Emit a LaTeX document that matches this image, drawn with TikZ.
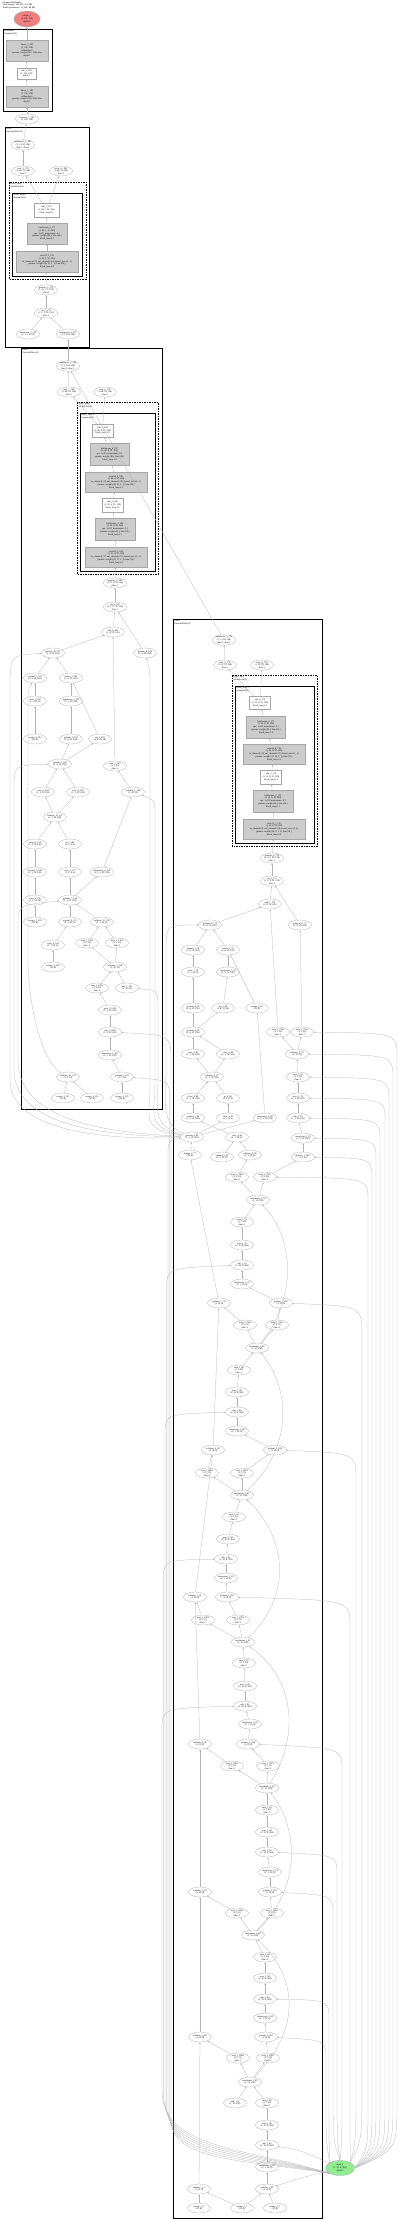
\documentclass[tikz,border=0pt]{standalone}
\usepackage{fontspec}
\setmainfont{Liberation Serif}
\usetikzlibrary{shapes.geometric,arrows.meta}
\definecolor{lcoral}{HTML}{F08080}
\definecolor{lgreen}{HTML}{90EE90}
\newcommand\EE[4]{\node[el] (#1) at (#2,#3) {#4};}
\begin{document}
\begin{tikzpicture}[x=1pt,y=-1pt,
  base/.style={font=\fontsize{2.3}{2.75}\selectfont, align=center},
  el/.style={base, ellipse, draw=gray!70, line width=0.25pt, minimum width=23pt, minimum height=10pt, inner sep=0pt},
  gbox/.style={base, rectangle, draw=gray!70, fill=gray!40, line width=0.4pt, inner sep=0.8pt},
  wbox/.style={base, rectangle, draw=gray!70, fill=white, line width=0.4pt, inner sep=0.8pt},
  clus/.style={draw=black, line width=0.9pt},
  dclus/.style={draw=black, line width=0.45pt, dash pattern=on 1.5pt off 1pt},
  iclus/.style={draw=black, line width=0.6pt},
  clab/.style={font=\fontsize{2.3}{2.75}\selectfont, align=left, anchor=north west, inner sep=0.4pt},
  ed/.style={draw=gray!60, line width=0.25pt, -{Stealth[length=1.8pt,width=1.4pt]}},
  outn/.style={base, ellipse, fill=lcoral, draw=gray!70, line width=0.3pt, minimum width=26pt, minimum height=16pt, inner sep=0pt},
  inn/.style={base, ellipse, fill=lgreen, draw=gray!70, line width=0.3pt, minimum width=29pt, minimum height=15pt, inner sep=0pt},
]
\useasboundingbox (0,0) rectangle (400,2222);
\fill[white] (0,0) rectangle (400,2222);
\node[clab] (hdr) at (2,1) {ComputeNetHandler\\Total params: 145,520 / 0.6 MB\\Tensor parameters: 12,160 / 48 KB};
\node[outn] (out) at (27,19) {output\_1\\(1, 192, 128)\\depth:0};
% ---------------- cluster 1
\draw[clus] (3,29) rectangle (52,111);
\node[clab] (l1) at (4,29.5) {ts.Handler\\Sequential(3)};
\node[gbox, minimum width=42pt, minimum height=21pt] (a1) at (27,50.5) {linear\_2\_181\\(1, 192, 128)\\ts.Handler.2\\params: weight (192, 128), bias\\depth:1};
\node[wbox, minimum width=19pt, minimum height=11pt] (a2) at (26.5,73.5) {relu\_1\_180\\(1, 192, 128)\\depth:1};
\node[gbox, minimum width=42pt, minimum height=21pt] (a3) at (27,96.5) {linear\_1\_180\\(1, 192, 128)\\ts.Handler.0\\params: weight (128, 384), bias\\depth:1};
\EE{a4}{27}{119}{squeeze\_1\_180\\(1, 192, 128)}
\draw[ed] (a4) -- (a3); \draw[ed] (a3) -- (a2); \draw[ed] (a2) -- (a1); \draw[ed] (a1) -- (out);
% ---------------- cluster 2
\draw[clus] (5,127) rectangle (89,347);
\node[clab] (l2) at (6,127.5) {block\\EncoderBlock(3)};
\EE{b1}{23}{145}{unsqueeze\_1\_187\\(1, 1, 192, 128)\\dim=1, dim=1}
\EE{b2}{23}{171}{max\_3\_179\\(1, 64, 32, 128)\\dim=1}
\EE{b3}{61}{171}{max\_10\_180\\(1, 64, 32, 128)\\dim=1}
\draw[dclus] (9,182) rectangle (86,279);
\node[clab] (l2b) at (10,182.5) {block\_loop\\ModuleList(1)};
\draw[iclus] (12,193) rectangle (82,276);
\node[clab] (l2c) at (13,193.5) {block\_loop.0\\Sequential(3)};
\node[wbox, minimum width=25pt, minimum height=14pt] (b4) at (46.5,210) {relu\_2\_179\\(1, 64, 1, 32, 192)\\block\_loop.0.1};
\node[gbox, minimum width=40pt, minimum height=21pt] (b5) at (47,233.5) {batchnorm\_2\_177\\(1, 64, 1, 32, 192)\\eps: 1e-05, momentum: 0.1\\params: weight (64,), bias (64,)\\block\_loop.0.1};
\node[gbox, minimum width=62pt, minimum height=21pt] (b6) at (47,261.5) {conv2d\_3\_178\\(1, 64, 1, 32, 192)\\in\_channels=32, out\_channels=64, kernel\_size=(1, 1)\\params: weight (64, 32, 1, 1), bias (64,)\\block\_loop.0.0};
\EE{b7}{46}{290}{permute\_2\_173\\(1, 32, 1, 1, 192)\\dim=0}
\EE{b8}{46}{313}{cat\_2\_176\\(1, 1, 1, 32, 192)\\dim=1}
\EE{b9}{28}{334}{unsqueeze\_3\_178\\(1, 1, 1, 32, 8)}
\EE{b10}{68}{334}{unsqueeze\_4\_172\\(1, 1, 192, 128)}
\draw[ed] (b9) -- (b8); \draw[ed] (b10) -- (b8); \draw[ed] (b8) -- (b7); \draw[ed] (b7) -- (b6);
\draw[ed] (b6) -- (b5); \draw[ed] (b5) -- (b4); \draw[ed] (b4) -- (b2); \draw[ed] (b4) -- (b3);
\draw[ed] (b2) -- (b1); \draw[ed] (b1) -- (a4);
% ---------------- cluster 3
\draw[clus] (21,348) rectangle (162,1109);
\node[clab] (l3) at (22,348.5) {block\\EncoderBlock(3)};
\EE{c1}{68}{366}{unsqueeze\_2\_179\\(1, 1, 192, 128)\\dim=1, dim=1}
\EE{c2}{69}{392}{max\_7\_188\\(1, 48, 32, 128)\\dim=1}
\EE{c3}{105}{392}{max\_6\_178\\(1, 48, 32, 128)\\dim=1}
\draw[dclus] (77,402) rectangle (158,574);
\node[clab] (l3b) at (78,402.5) {block\_loop\\ModuleList(2)};
\draw[iclus] (80,413) rectangle (155,571);
\node[clab] (l3c) at (81,413.5) {block\_loop.1\\Sequential(6)};
\node[wbox, minimum width=21pt, minimum height=13pt] (c4) at (102.5,430.5) {relu\_5\_189\\(1, 48, 4, 32, 128)\\block\_loop.1.5};
\node[gbox, minimum width=39pt, minimum height=22pt] (c5) at (109.5,454) {batchnorm\_4\_187\\(1, 48, 4, 32, 128)\\eps: 1e-05, momentum: 0.1\\params: weight (48,), bias (48,)\\block\_loop.1.4};
\node[gbox, minimum width=62pt, minimum height=20pt] (c6) at (116,482) {conv2d\_6\_188\\(1, 48, 4, 32, 128)\\in\_channels=32, out\_channels=48, kernel\_size=(1, 1)\\params: weight (48, 32, 1, 1), bias (48,)\\block\_loop.1.3};
\node[wbox, minimum width=21pt, minimum height=14pt] (c7) at (112.5,505) {relu\_3\_185\\(1, 32, 4, 32, 128)\\block\_loop.1.2};
\node[gbox, minimum width=40pt, minimum height=22pt] (c8) at (115,529) {batchnorm\_3\_183\\(1, 32, 4, 32, 128)\\eps: 1e-05, momentum: 0.1\\params: weight (32,), bias (32,)\\block\_loop.1.1};
\node[gbox, minimum width=62pt, minimum height=20pt] (c9) at (116,557) {conv2d\_5\_184\\(1, 32, 4, 32, 128)\\in\_channels=17, out\_channels=32, kernel\_size=(1, 1)\\params: weight (32, 17, 1, 1), bias (32,)\\block\_loop.1.0};
\EE{c10}{115}{583}{permute\_4\_182\\(1, 17, 4, 32, 128)\\dim=-1}
\EE{c11}{115}{607}{cat\_3\_183\\(1, 1, 17, 32, 128)\\dim=1}
\EE{c12}{113}{632}{add\_4\_190\\(1, 4, 32, 128)}
\EE{c13}{53}{653}{getitem\_19\_151\\(1, 4, 32, 128)}
\EE{c14}{145}{653}{getitem\_8\_184\\(1, 4, 32, 128)}
\EE{c15}{35}{678}{expand\_1\_178\\(1, 4, 32, 128)}
\EE{c16}{71}{678}{where\_3\_182\\(1, 4, 32, 128)}
\EE{c17}{35}{701}{view\_5\_182\\(1, 1, 32, 8)}
\EE{c18}{71}{701}{unsqueeze\_3\_183\\(1, 1, 32, 128)}
\EE{c19}{35}{739}{arange\_4\_193\\(32, 8)}
\EE{c20}{71}{739}{getitem\_5\_183\\(1, 4, 32, 128)}
\EE{c21}{100}{739}{sig\_5\_181\\(1, 4, 32, 28)}
\EE{c22}{60}{764}{getitem\_3\_186\\(1, 4, 32, 128)}
\EE{c23}{115}{766}{max\_1\_128\\(1, 1, 32)\\dim=-1}
\EE{c24}{43}{792}{view\_3\_184\\(1, 1, 32, 128)}
\EE{c25}{78}{792}{view\_4\_182\\(1, 1, 32, 128)}
\EE{c26}{133}{792}{softmax\_1\_128\\(1, 32, 32)}
\EE{c27}{55}{817}{softmax\_12\_147\\(1, 1, 32, 128)}
\EE{c28}{35}{844}{clone\_2\_138\\(1, 1, 32, 128)}
\EE{c29}{70}{844}{pt\_3\_182\\(1, 1, 4, 8)}
\EE{c30}{35}{872}{expand\_2\_148\\(1, 1, 32, 128)}
\EE{c31}{70}{872}{view\_2\_137\\(1, 1, 4, 4)}
\EE{c32}{102}{872}{unsqueeze\_4\_132\\(1, 1, 1, 32, 128)}
\EE{c33}{35}{900}{view\_3\_136\\(1, 1, 32, 64)}
\EE{c34}{70}{900}{getitem\_7\_138\\(1, 1, 32, 128)}
\EE{c35}{35}{922}{arange\_7\_138\\(32, 8)}
\EE{c36}{70}{922}{expand\_2\_132\\(1, 1, 32, 8)}
\EE{c37}{102}{922}{softmax\_15\_138\\(1, 1, 32, 8)}
\EE{c38}{53}{945}{view\_4\_128\\(1, 1, 32, 8)}
\EE{c39}{87}{943}{max\_1\_1281\\(1, 1, 32)\\dim=-1}
\EE{c40}{117}{943}{max\_1\_1282\\(1, 1, 32)\\dim=-1}
\EE{c41}{53}{967}{arange\_3\_128\\(32, 8)}
\EE{c42}{115}{967}{softmax\_2\_128\\(1, 32, 32)}
\EE{c43}{97}{988}{sum\_1\_1283\\(1, 1, 32)\\dim=-1}
\EE{c44}{127}{988}{mul\_1\_162\\(1, 32, 32)}
\EE{c45}{110}{1010}{pow\_1\_1283\\(1, 1, 32, 128)}
\EE{c46}{110}{1032}{sub\_1\_1283\\(1, 1, 32, 128)}
\EE{c47}{110}{1055}{unsqueeze\_5\_127\\(1, 1, 32, 128)}
\EE{c48}{68}{1077}{softmax\_10\_135\\(1, 1, 32)}
\EE{c49}{122}{1077}{getitem\_1\_203\\(1, 1, 32)}
\EE{c50}{63}{1098}{arange\_3\_135\\(32, 8)}
\EE{c51}{92}{1098}{arange\_4\_135\\(32, 8)}
\EE{c52}{122}{1098}{arange\_5\_135\\(32, 8)}
\draw[ed] (c1) -- (b10);
\draw[ed] (c2) -- (c1); \draw[ed] (c4) -- (c2); \draw[ed] (c4) -- (c3);
\draw[ed] (c5) -- (c4); \draw[ed] (c6) -- (c5); \draw[ed] (c7) -- (c6); \draw[ed] (c8) -- (c7); \draw[ed] (c9) -- (c8);
\draw[ed] (c10) -- (c9); \draw[ed] (c11) -- (c10); \draw[ed] (c12) -- (c11); \draw[ed] (c13) -- (c12); \draw[ed] (c14) -- (c11);
\draw[ed] (c23) -- (c12); \draw[ed] (c15) -- (c13); \draw[ed] (c16) -- (c13); \draw[ed] (c17) -- (c15); \draw[ed] (c19) -- (c17);
\draw[ed] (c18) -- (c16); \draw[ed] (c20) -- (c18); \draw[ed] (c21) -- (c16); \draw[ed] (c22) -- (c20); \draw[ed] (c22) -- (c21);
\draw[ed] (c24) -- (c22); \draw[ed] (c25) -- (c22); \draw[ed] (c27) -- (c24); \draw[ed] (c27) -- (c25);
\draw[ed] (c26) -- (c23); \draw[ed] (c28) -- (c27); \draw[ed] (c29) -- (c27); \draw[ed] (c30) -- (c28); \draw[ed] (c31) -- (c29);
\draw[ed] (c33) -- (c30); \draw[ed] (c34) -- (c31); \draw[ed] (c34) -- (c32); \draw[ed] (c32) -- (c26);
\draw[ed] (c35) -- (c33); \draw[ed] (c36) -- (c34); \draw[ed] (c37) -- (c34); \draw[ed] (c38) -- (c36); \draw[ed] (c41) -- (c38);
\draw[ed] (c39) -- (c37); \draw[ed] (c40) -- (c37); \draw[ed] (c42) -- (c39); \draw[ed] (c42) -- (c40);
\draw[ed] (c43) -- (c42); \draw[ed] (c44) -- (c42); \draw[ed] (c45) -- (c43); \draw[ed] (c46) -- (c45); \draw[ed] (c47) -- (c46);
\draw[ed] (c49) -- (c47); \draw[ed] (c50) -- (c48); \draw[ed] (c51) -- (c48); \draw[ed] (c52) -- (c49);
\draw[ed] (c48) .. controls (40,1060) and (28,1000) .. (28,960) -- (28,700) .. controls (28,690) .. (c15);
% ---------------- cluster 4
\draw[clus] (173,619) rectangle (322,2218);
\node[clab] (l4) at (174,619.5) {block\\EncoderBlock(3)};
\EE{d1}{224}{640}{unsqueeze\_3\_179\\(1, 1, 192, 128)\\dim=1, dim=1}
\EE{d2}{225}{665}{max\_9\_178\\(1, 32, 32, 128)\\dim=1}
\EE{d3}{262}{665}{max\_8\_178\\(1, 32, 32, 128)\\dim=1}
\draw[dclus] (232,675) rectangle (317,846);
\node[clab] (l4b) at (233,675.5) {block\_loop\\ModuleList(2)};
\draw[iclus] (235,686) rectangle (314,843);
\node[clab] (l4c) at (236,686.5) {block\_loop.1\\Sequential(6)};
\node[wbox, minimum width=21pt, minimum height=13pt] (d4) at (260,703) {relu\_8\_179\\(1, 32, 8, 32, 128)\\block\_loop.1.5};
\node[gbox, minimum width=39pt, minimum height=22pt] (d5) at (266,727) {batchnorm\_6\_177\\(1, 32, 8, 32, 128)\\eps: 1e-05, momentum: 0.1\\params: weight (32,), bias (32,)\\block\_loop.1.4};
\node[gbox, minimum width=62pt, minimum height=20pt] (d6) at (274,754) {conv2d\_8\_178\\(1, 32, 8, 32, 128)\\in\_channels=16, out\_channels=32, kernel\_size=(1, 1)\\params: weight (32, 16, 1, 1), bias (32,)\\block\_loop.1.3};
\node[wbox, minimum width=21pt, minimum height=14pt] (d7) at (271,777) {relu\_7\_176\\(1, 16, 8, 32, 128)\\block\_loop.1.2};
\node[gbox, minimum width=40pt, minimum height=22pt] (d8) at (273,801) {batchnorm\_5\_175\\(1, 16, 8, 32, 128)\\eps: 1e-05, momentum: 0.1\\params: weight (16,), bias (16,)\\block\_loop.1.1};
\node[gbox, minimum width=62pt, minimum height=20pt] (d9) at (274,829) {conv2d\_7\_176\\(1, 16, 8, 32, 128)\\in\_channels=9, out\_channels=16, kernel\_size=(1, 1)\\params: weight (16, 9, 1, 1), bias (16,)\\block\_loop.1.0};
\EE{d10}{272}{858}{permute\_6\_170\\(1, 9, 8, 32, 128)\\dim=-1}
\EE{d11}{272}{881}{cat\_5\_171\\(1, 1, 9, 32, 128)\\dim=1}
\EE{d12}{270}{904}{add\_7\_178\\(1, 8, 32, 128)}
\EE{d13}{210}{925}{getitem\_12\_78\\(1, 8, 32, 128)}
\EE{d14}{300}{925}{getitem\_11\_72\\(1, 8, 32, 128)}
\EE{d15}{193}{950}{expand\_3\_78\\(1, 8, 32, 128)}
\EE{d16}{228}{950}{where\_5\_78\\(1, 8, 32, 128)}
\EE{d17}{193}{972}{view\_7\_78\\(1, 1, 32, 8)}
\EE{d18}{228}{972}{unsqueeze\_7\_78\\(1, 1, 32, 128)}
\EE{e1}{193}{1008}{getitem\_4\_70\\(1, 8, 32, 128)}
\EE{e2}{223}{1008}{sig\_1\_80\\(1, 8, 32, 28)}
\EE{e3}{257}{1008}{arange\_6\_81\\(32, 8)}
\EE{e4}{193}{1032}{getitem\_4\_79\\(1, 8, 32, 128)}
\EE{e5}{278}{1032}{max\_1\_7810\\(1, 1, 32)\\dim=-1}
\EE{e6}{302}{1032}{max\_1\_7811\\(1, 1, 32)\\dim=-1}
\EE{e7}{193}{1054}{view\_5\_86\\(1, 1, 32, 128)}
\EE{e8}{228}{1054}{view\_6\_86\\(1, 1, 32, 128)}
\EE{e9}{297}{1054}{softmax\_1\_78\\(1, 32, 32)}
\EE{e10}{212}{1077}{softmax\_4\_87\\(1, 1, 32, 128)}
\EE{e11}{298}{1077}{sum\_1\_78\\(1, 1, 32)\\dim=-1}
\EE{e12}{193}{1098}{clone\_4\_88\\(1, 1, 32, 128)}
\EE{e13}{228}{1098}{pt\_4\_88\\(1, 1, 8, 8)}
\EE{e14}{298}{1098}{pow\_1\_78\\(1, 1, 32, 128)}
\EE{e15}{193}{1118}{expand\_1\_88\\(1, 1, 32, 128)}
\EE{e16}{228}{1118}{view\_4\_81\\(1, 1, 8, 4)}
\EE{e17}{265}{1118}{unsqueeze\_5\_89\\(1, 1, 1, 32, 128)}
\EE{e18}{298}{1118}{sub\_1\_78\\(1, 1, 32, 128)}
\EE{e19}{192}{1137}{getitem\_4\_89\\(1, 1, 32, 128)}
\EE{e20}{237}{1137}{view\_4\_90\\(1, 1, 32, 8)}
\EE{e21}{303}{1138}{unsqueeze\_1\_78\\(1, 1, 32, 128)}
\EE{e22}{190}{1155}{arange\_2\_77\\(32, 8)}
\EE{e23}{222}{1157}{expand\_2\_90\\(1, 1, 32, 8)}
\EE{e24}{250}{1155}{softmax\_8\_90\\(1, 1, 32, 8)}
\EE{e25}{303}{1157}{getitem\_1\_1017\\(1, 1, 32)}
\draw[ed] (d1) -- (c1);
\draw[ed] (d2) -- (d1); \draw[ed] (d4) -- (d2); \draw[ed] (d4) -- (d3);
\draw[ed] (d5) -- (d4); \draw[ed] (d6) -- (d5); \draw[ed] (d7) -- (d6); \draw[ed] (d8) -- (d7); \draw[ed] (d9) -- (d8);
\draw[ed] (d10) -- (d9); \draw[ed] (d11) -- (d10); \draw[ed] (d12) -- (d11); \draw[ed] (d13) -- (d12); \draw[ed] (d14) -- (d11);
\draw[ed] (d15) -- (d13); \draw[ed] (d16) -- (d13); \draw[ed] (d17) -- (d15); \draw[ed] (d18) -- (d16);
\draw[ed] (e1) -- (d17); \draw[ed] (e2) -- (d18); \draw[ed] (e3) -- (d16); \draw[ed] (e4) -- (e1); \draw[ed] (e4) -- (e2);
\draw[ed] (e5) -- (d12); \draw[ed] (e6) -- (d14);
\draw[ed] (e7) -- (e4); \draw[ed] (e8) -- (e4); \draw[ed] (e9) -- (e5); \draw[ed] (e9) -- (e6);
\draw[ed] (e10) -- (e7); \draw[ed] (e10) -- (e8); \draw[ed] (e11) -- (e9); \draw[ed] (e12) -- (e10); \draw[ed] (e13) -- (e10);
\draw[ed] (e14) -- (e11); \draw[ed] (e15) -- (e12); \draw[ed] (e16) -- (e13); \draw[ed] (e17) -- (e3); \draw[ed] (e18) -- (e14);
\draw[ed] (e19) -- (e16); \draw[ed] (e19) -- (e17); \draw[ed] (e20) -- (e15); \draw[ed] (e21) -- (e18);
\draw[ed] (e22) -- (e19); \draw[ed] (e23) -- (e20); \draw[ed] (e24) -- (e20); \draw[ed] (e25) -- (e21);
% repeated blocks
\EE{k4}{237}{1177}{max\_1\_7820\\(1, 1, 32)\\dim=-1}
\EE{k5}{265}{1177}{max\_1\_7821\\(1, 1, 32)\\dim=-1}
\EE{k6}{258}{1200}{maximum\_1\_78\\(1, 32, 128)}
\EE{k7}{242}{1222}{sum\_1\_79\\(1, 1, 32)\\dim=-1}
\EE{k8}{242}{1245}{pow\_1\_79\\(1, 32, 8, 384)}
\EE{k9}{242}{1265}{sub\_1\_79\\(1, 32, 8, 384)}
\EE{k10}{242}{1284}{unsqueeze\_1\_79\\(1, 1, 32, 8)}
\EE{k11}{219}{1303}{softmax\_7\_79\\(1, 32, 8)}
\EE{k12}{281}{1303}{getitem\_1\_867\\(1, 32, 8)}
\EE{k13}{245}{1325}{max\_1\_7950\\(1, 1, 8)\\dim=-1}
\EE{k14}{277}{1325}{max\_1\_7951\\(1, 1, 8)\\dim=-1}
\EE{k15}{257}{1348}{maximum\_1\_80\\(1, 32, 128)}
\EE{k16}{239}{1370}{sum\_1\_80\\(1, 1, 32)\\dim=-1}
\EE{k17}{237}{1392}{pow\_1\_80\\(1, 32, 8, 384)}
\EE{k18}{237}{1412}{sub\_1\_80\\(1, 32, 8, 384)}
\EE{k19}{237}{1431}{unsqueeze\_1\_80\\(1, 1, 32, 8)}
\EE{k20}{213}{1450}{softmax\_6\_80\\(1, 32, 8)}
\EE{k21}{275}{1450}{getitem\_1\_818\\(1, 32, 8)}
\EE{k22}{207}{1473}{max\_1\_8050\\(1, 1, 8)\\dim=-1}
\EE{k23}{242}{1473}{max\_1\_8051\\(1, 1, 8)\\dim=-1}
\EE{k24}{242}{1495}{maximum\_1\_81\\(1, 32, 128)}
\EE{k25}{234}{1517}{sum\_1\_81\\(1, 1, 32)\\dim=-1}
\EE{k26}{228}{1539}{pow\_1\_81\\(1, 32, 8, 384)}
\EE{k27}{226}{1559}{sub\_1\_81\\(1, 32, 8, 384)}
\EE{k28}{226}{1578}{unsqueeze\_1\_81\\(1, 1, 32, 8)}
\EE{k29}{195}{1597}{softmax\_5\_81\\(1, 32, 8)}
\EE{k30}{227}{1597}{getitem\_1\_822\\(1, 32, 8)}
\EE{k31}{203}{1620}{max\_1\_8150\\(1, 1, 8)\\dim=-1}
\EE{k32}{238}{1620}{max\_1\_8151\\(1, 1, 8)\\dim=-1}
\EE{k33}{243}{1642}{maximum\_1\_82\\(1, 32, 128)}
\EE{k34}{244}{1663}{sum\_1\_82\\(1, 1, 32)\\dim=-1}
\EE{k35}{245}{1686}{pow\_1\_82\\(1, 32, 8, 384)}
\EE{k36}{245}{1706}{sub\_1\_82\\(1, 32, 8, 384)}
\EE{k37}{250}{1724}{unsqueeze\_1\_82\\(1, 1, 32, 8)}
\EE{k38}{200}{1744}{softmax\_4\_82\\(1, 32, 8)}
\EE{k39}{248}{1744}{getitem\_1\_826\\(1, 32, 8)}
\EE{k40}{232}{1766}{max\_1\_8250\\(1, 1, 8)\\dim=-1}
\EE{k41}{268}{1766}{max\_1\_8251\\(1, 1, 8)\\dim=-1}
\EE{k42}{267}{1788}{maximum\_1\_83\\(1, 32, 128)}
\EE{k43}{267}{1810}{sum\_1\_83\\(1, 1, 32)\\dim=-1}
\EE{k44}{267}{1832}{pow\_1\_83\\(1, 32, 8, 384)}
\EE{k45}{267}{1852}{sub\_1\_83\\(1, 32, 8, 384)}
\EE{k46}{270}{1872}{unsqueeze\_1\_83\\(1, 1, 32, 8)}
\EE{k47}{200}{1892}{softmax\_3\_83\\(1, 32, 8)}
\EE{k48}{270}{1892}{getitem\_1\_831\\(1, 32, 8)}
\EE{k49}{237}{1913}{max\_1\_8350\\(1, 1, 8)\\dim=-1}
\EE{k50}{272}{1913}{max\_1\_8351\\(1, 1, 8)\\dim=-1}
\EE{k51}{253}{1935}{maximum\_1\_84\\(1, 32, 128)}
\EE{k52}{265}{1957}{sum\_1\_84\\(1, 1, 32)\\dim=-1}
\EE{k53}{265}{1978}{pow\_1\_84\\(1, 32, 8, 384)}
\EE{k54}{265}{1999}{sub\_1\_84\\(1, 32, 8, 384)}
\EE{k55}{265}{2018}{unsqueeze\_1\_84\\(1, 1, 32, 8)}
\EE{k56}{200}{2037}{softmax\_2\_84\\(1, 32, 8)}
\EE{k57}{266}{2037}{getitem\_1\_837\\(1, 32, 8)}
\EE{k58}{238}{2058}{max\_1\_8450\\(1, 1, 8)\\dim=-1}
\EE{k59}{268}{2058}{max\_1\_8451\\(1, 1, 8)\\dim=-1}
\EE{k60}{250}{2082}{maximum\_1\_85\\(1, 32, 128)}
\EE{k61}{235}{2103}{half\_1\_4\\(1, 32, 128)}
\EE{k62}{267}{2103}{sum\_1\_85\\(1, 1, 32)\\dim=-1}
\EE{k63}{267}{2125}{pow\_1\_85\\(1, 32, 8, 384)}
\EE{k64}{267}{2145}{sub\_1\_85\\(1, 32, 8, 384)}
\EE{k65}{267}{2167}{unsqueeze\_1\_85\\(1, 1, 32, 8)}
\EE{k66}{199}{2189}{softmax\_1\_2\\(1, 32, 8)}
\EE{k67}{267}{2189}{getitem\_1\_85\\(1, 32, 8)}
\EE{k68}{199}{2208}{arange\_1\_1\\(32, 8)}
\EE{k69}{242}{2208}{arange\_2\_1\\(32, 8)}
\EE{k70}{275}{2208}{arange\_3\_1\\(32, 8)}
\node[inn] (inp) at (340,2168) {input\_1\\(1, 32, 8, 384)\\depth:0};
% chain edges
\draw[ed] (k4) -- (e24); \draw[ed] (k5) -- (e25); \draw[ed] (k6) -- (k4); \draw[ed] (k6) -- (k5);
\draw[ed] (k7) -- (k6); \draw[ed] (k8) -- (k7); \draw[ed] (k9) -- (k8); \draw[ed] (k10) -- (k9); \draw[ed] (k12) -- (k10);
\draw[ed] (k13) -- (k11); \draw[ed] (k14) -- (k12); \draw[ed] (k15) -- (k13); \draw[ed] (k15) -- (k14);
\draw[ed] (k16) -- (k15); \draw[ed] (k17) -- (k16); \draw[ed] (k18) -- (k17); \draw[ed] (k19) -- (k18); \draw[ed] (k21) -- (k19);
\draw[ed] (k22) -- (k20); \draw[ed] (k23) -- (k21); \draw[ed] (k24) -- (k22); \draw[ed] (k24) -- (k23);
\draw[ed] (k25) -- (k24); \draw[ed] (k26) -- (k25); \draw[ed] (k27) -- (k26); \draw[ed] (k28) -- (k27); \draw[ed] (k30) -- (k28);
\draw[ed] (k31) -- (k29); \draw[ed] (k32) -- (k30); \draw[ed] (k33) -- (k31); \draw[ed] (k33) -- (k32);
\draw[ed] (k34) -- (k33); \draw[ed] (k35) -- (k34); \draw[ed] (k36) -- (k35); \draw[ed] (k37) -- (k36); \draw[ed] (k39) -- (k37);
\draw[ed] (k40) -- (k38); \draw[ed] (k41) -- (k39); \draw[ed] (k42) -- (k40); \draw[ed] (k42) -- (k41);
\draw[ed] (k43) -- (k42); \draw[ed] (k44) -- (k43); \draw[ed] (k45) -- (k44); \draw[ed] (k46) -- (k45); \draw[ed] (k48) -- (k46);
\draw[ed] (k49) -- (k47); \draw[ed] (k50) -- (k48); \draw[ed] (k51) -- (k49); \draw[ed] (k51) -- (k50);
\draw[ed] (k52) -- (k51); \draw[ed] (k53) -- (k52); \draw[ed] (k54) -- (k53); \draw[ed] (k55) -- (k54); \draw[ed] (k57) -- (k55);
\draw[ed] (k58) -- (k56); \draw[ed] (k59) -- (k57); \draw[ed] (k60) -- (k58); \draw[ed] (k60) -- (k59);
\draw[ed] (k62) -- (k60); \draw[ed] (k61) -- (k60); \draw[ed] (k63) -- (k62); \draw[ed] (k64) -- (k63); \draw[ed] (k65) -- (k64); \draw[ed] (k67) -- (k65);
\draw[ed] (k68) -- (k66); \draw[ed] (k69) -- (k67); \draw[ed] (k70) -- (k67); \draw[ed] (k69) -- (k66);
% left verticals
\draw[ed] (k11) -- (e22); \draw[ed] (k20) -- (k11); \draw[ed] (k29) -- (k20); \draw[ed] (k38) -- (k29);
\draw[ed] (k47) -- (k38); \draw[ed] (k56) -- (k47); \draw[ed] (k66) -- (k56);
% maximum chain through right
\draw[ed] (k15) .. controls (296,1300) and (296,1240) .. (k6);
\draw[ed] (k24) .. controls (292,1450) and (292,1390) .. (k15);
\draw[ed] (k33) .. controls (290,1600) and (290,1540) .. (k24);
\draw[ed] (k42) .. controls (298,1740) and (298,1680) .. (k33);
\draw[ed] (k51) .. controls (300,1890) and (300,1830) .. (k42);
\draw[ed] (k60) .. controls (300,2030) and (300,1980) .. (k51);
% getitem e19 to cluster 3 via far left
\draw[ed] (e19) .. controls (120,1140) and (10,1135) .. (10,1080) -- (10,690) .. controls (10,655) .. (c13);
\draw[ed] (e19) .. controls (120,1136) and (14,1130) .. (14,1070) -- (14,790) .. controls (14,765) .. (c22);
\draw[ed] (e19) .. controls (120,1133) and (18,1125) .. (18,1060) -- (18,925) .. controls (18,905) .. (c34);
\draw[ed] (e19) .. controls (140,1130) and (150,1115) .. (150,1090) -- (150,690) .. controls (150,670) .. (c14);
\draw[ed] (e19) .. controls (145,1128) and (155,1110) .. (155,1085) -- (155,815) .. controls (155,800) .. (c26);
\draw[ed] (e19) .. controls (150,1126) and (158,1105) .. (158,1080) -- (158,1010) .. controls (158,990) .. (c44);
\draw[ed] (e19) .. controls (160,1124) and (166,1100) .. (166,1070) -- (166,950) .. controls (166,925) .. (d13);
% input edges: right lanes to getitems
\draw[ed] (inp) .. controls (300,2178) .. (k67);
\draw[ed] (inp) .. controls (300,2150) .. (k64);
\draw[ed] (inp.north west) .. controls (326,2140) .. (326,2100) -- (326,2060) .. controls (326,2040) .. (k57);
\draw[ed] (inp.north west) .. controls (329,2140) .. (329,2090) -- (329,2020) .. controls (329,2000) .. (k54);
\draw[ed] (inp.north) .. controls (333,2140) .. (333,2080) -- (333,1915) .. controls (333,1895) .. (k48);
\draw[ed] (inp.north) .. controls (337,2140) .. (337,2080) -- (337,1875) .. controls (337,1855) .. (k45);
\draw[ed] (inp.north) .. controls (342,2140) .. (342,2080) -- (342,1770) .. controls (342,1748) .. (k39);
\draw[ed] (inp.north east) .. controls (350,2140) .. (350,2080) -- (350,1625) .. controls (350,1600) .. (k30);
\draw[ed] (inp.north east) .. controls (356,2140) .. (356,2080) -- (356,1480) .. controls (356,1453) .. (k21);
\draw[ed] (inp.north east) .. controls (362,2140) .. (362,2080) -- (362,1335) .. controls (362,1306) .. (k12);
\draw[ed] (inp.east) .. controls (368,2150) .. (368,2100) -- (368,1200) .. controls (368,1178) .. (k5);
\draw[ed] (inp.east) .. controls (372,2150) .. (372,2100) -- (372,1180) .. controls (372,1158) .. (e25);
\draw[ed] (inp.east) .. controls (376,2150) .. (376,2100) -- (376,1160) .. controls (376,1139) .. (e21);
\draw[ed] (inp.east) .. controls (380,2150) .. (380,2100) -- (380,1140) .. controls (380,1119) .. (e18);
\draw[ed] (inp.east) .. controls (385,2150) .. (385,2100) -- (385,1120) .. controls (385,1099) .. (e14);
\draw[ed] (inp.east) .. controls (389,2150) .. (389,2100) -- (389,1100) .. controls (389,1078) .. (e11);
\draw[ed] (inp.east) .. controls (393,2150) .. (393,2100) -- (393,1078) .. controls (393,1055) .. (e9);
\draw[ed] (inp.east) .. controls (397,2150) .. (397,2100) -- (397,1056) .. controls (397,1033) .. (e6);
% input edges: left lanes
\draw[ed] (inp.south west) .. controls (250,2160) and (171,2162) .. (171,2120) -- (171,1060) .. controls (171,1035) .. (c46);
\draw[ed] (inp.south west) .. controls (250,2158) and (169.5,2160) .. (169.5,2115) -- (169.5,1100) .. controls (169.5,1080) .. (c49);
\draw[ed] (inp.south west) .. controls (250,2156) and (168,2158) .. (168,2110) -- (168,1160) .. controls (168,1140) .. (e19);
\draw[ed] (inp.south west) .. controls (250,2154) and (166.5,2156) .. (166.5,2105) -- (166.5,1290) .. controls (166.5,1268) .. (k9);
\draw[ed] (inp.south west) .. controls (250,2152) and (165,2154) .. (165,2100) -- (165,1435) .. controls (165,1414) .. (k18);
\draw[ed] (inp.south west) .. controls (250,2150) and (163.5,2152) .. (163.5,2095) -- (163.5,1580) .. controls (163.5,1560) .. (k27);
\draw[ed] (inp.south west) .. controls (250,2148) and (162,2150) .. (162,2090) -- (162,1730) .. controls (162,1708) .. (k36);
\end{tikzpicture}
\end{document}
